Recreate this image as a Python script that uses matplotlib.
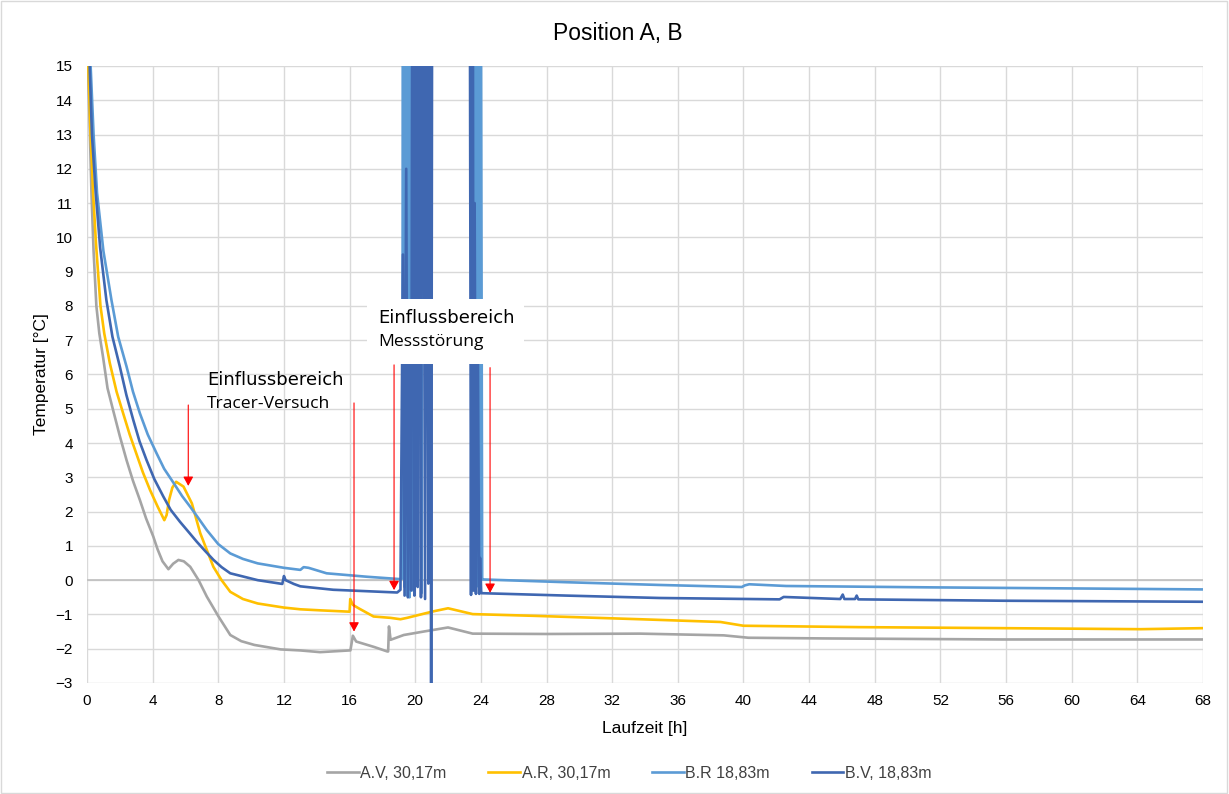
import numpy as np
import matplotlib.pyplot as plt
from matplotlib.patches import Rectangle

nan = np.nan

# A.V, 30,17m (grau)
av_h = [0.02, 0.06, 0.15, 0.27, 0.4, 0.57, 0.75, 0.98, 1.25, 1.59, 2.0, 2.41, 2.8, 3.22, 3.6, 4.04,
        4.3, 4.6, 4.96, 5.25, 5.57, 5.9, 6.29, 6.8, 7.3, 8.0, 8.73, 9.4, 10.2, 11.8, 13.0, 14.2,
        16.0, 16.05, 16.2, 16.4, 17.5, 18.3, 18.35, 18.4, 18.5, 19.3, 20.5, 22.0, 23.5, 28.0, 33.7, 38.8,
        40.3, 45.0, 55.8, 68.0]
av_t = [16.5, 15.0, 13.5, 11.3, 9.6, 8.0, 7.2, 6.5, 5.6, 4.96, 4.2, 3.5, 2.9, 2.34, 1.8, 1.27,
        0.9, 0.55, 0.32, 0.48, 0.59, 0.55, 0.39, 0.0, -0.48, -1.05, -1.6, -1.78, -1.89, -2.02, -2.05, -2.1,
        -2.05, -2.05, -1.62, -1.79, -1.95, -2.08, -2.08, -1.35, -1.74, -1.6, -1.5, -1.38, -1.56, -1.57, -1.56, -1.61,
        -1.68, -1.7, -1.73, -1.73]

# A.R, 30,17m (gelb)
ar_h = [0.02, 0.08, 0.2, 0.37, 0.55, 0.82, 1.05, 1.39, 1.8, 2.2, 2.6, 3.0, 3.4, 3.84, 4.3, 4.71,
        4.85, 5.0, 5.2, 5.43, 5.88, 6.39, 6.9, 7.7, 8.2, 8.73, 9.5, 10.4, 12.0, 13.0, 14.2, 16.0,
        16.04, 16.2, 16.55, 17.46, 18.5, 19.1, 19.5, 21.1, 22.0, 23.5, 27.2, 33.7, 38.6, 40.0, 47.0, 55.8,
        64.2, 68.0]
ar_t = [17.0, 15.0, 13.2, 11.3, 9.8, 8.0, 7.2, 6.33, 5.5, 4.87, 4.25, 3.7, 3.15, 2.63, 2.15, 1.75,
        1.9, 2.34, 2.7, 2.87, 2.73, 2.24, 1.37, 0.39, 0.0, -0.34, -0.55, -0.68, -0.8, -0.85, -0.88, -0.92,
        -0.55, -0.72, -0.82, -1.06, -1.1, -1.14, -1.1, -0.91, -0.82, -0.99, -1.04, -1.14, -1.22, -1.33, -1.37, -1.4,
        -1.43, -1.4]

# B.R 18,83m (hellblau)
br_h = [0.1, 0.22, 0.4, 0.61, 1.0, 1.49, 1.9, 2.41, 2.8, 3.22, 3.7, 4.24, 4.7, 5.27, 5.8, 6.29,
        6.8, 7.3, 8.0, 8.73, 9.5, 10.4, 12.0, 13.0, 13.2, 13.5, 14.6, 17.05, 19.1, 19.22, 19.25, 19.35,
        19.45, 19.5, 19.55, 19.65, 19.75, 19.8, 19.85, 20.35, 20.38, 20.42, 21.5, 23.45, 23.55, 23.62, 23.72, 23.8,
        23.9, 23.97, 24.08, 24.15, 29.2, 34.9, 39.9, 40.1, 40.35, 42.6, 51.4, 68.0]
br_t = [17.0, 15.0, 13.0, 11.3, 9.6, 8.17, 7.1, 6.23, 5.5, 4.87, 4.25, 3.7, 3.25, 2.84, 2.45, 2.14,
        1.8, 1.46, 1.05, 0.78, 0.62, 0.49, 0.36, 0.3, 0.38, 0.36, 0.2, 0.1, 0.03, 0.05, 25.0, -0.2,
        25.0, -0.45, 25.0, -0.5, 25.0, -0.3, 25.0, 25.0, -0.38, 25.0, nan, 25.0, -0.3, 25.0, -0.2, 25.0,
        0.5, 25.0, 0.02, 0.02, -0.06, -0.14, -0.2, -0.15, -0.12, -0.17, -0.21, -0.27]

# B.V, 18,83m (dunkelblau)
bv_h = [0.1, 0.16, 0.3, 0.53, 0.8, 1.18, 1.55, 2.0, 2.4, 2.82, 3.2, 3.63, 4.1, 4.65, 5.1, 5.67,
        6.2, 6.69, 7.2, 7.71, 8.2, 8.73, 10.4, 11.9, 12.0, 12.1, 12.6, 13.0, 15.0, 18.9, 19.1, 19.25,
        19.35, 19.45, 19.55, 19.65, 19.75, 19.85, 19.95, 20.05, 20.15, 20.25, 20.35, 20.45, 20.6, 20.7, 20.8, 20.9,
        20.97, 21.05, 22.0, 23.3, 23.4, 23.5, 23.55, 23.62, 23.7, 23.8, 23.9, 23.95, 24.02, 24.05, 29.2, 34.9,
        42.2, 42.45, 45.9, 46.05, 46.15, 46.8, 46.9, 47.0, 55.8, 68.0]
bv_t = [17.0, 15.0, 13.0, 11.3, 9.7, 8.17, 7.1, 6.23, 5.4, 4.67, 4.05, 3.5, 2.95, 2.44, 2.05, 1.7,
        1.4, 1.12, 0.85, 0.59, 0.38, 0.2, 0.0, -0.11, 0.12, 0.0, -0.11, -0.18, -0.28, -0.36, -0.28, 9.5,
        -0.45, 12.0, -0.5, 8.0, -0.3, 25.0, -0.45, 25.0, -0.2, 25.0, -0.5, 25.0, -0.55, 25.0, -0.1, 25.0,
        -3.6, 25.0, nan, 25.0, -0.43, 25.0, -0.3, 11.0, -0.4, 8.0, -0.4, 0.65, -0.38, -0.38, -0.45, -0.52,
        -0.56, -0.49, -0.55, -0.42, -0.55, -0.55, -0.45, -0.56, -0.6, -0.63]

# Pfeile (Zeit, Start, Spitze)
arrow_h = [6.17, 16.27, 18.71, 24.56]
arrow_top = [5.11, 5.17, 6.28, 6.2]
arrow_tip = [2.75, -1.5, -0.29, -0.37]

x_ticks = list(range(0, 69, 4))
y_ticks = list(range(-3, 16))

fig = plt.figure(figsize=(12.29, 7.94), dpi=100)
ax = fig.add_axes([0.0708, 0.1398, 0.908, 0.7771])

ax.plot(av_h, av_t, color='#A5A5A5', lw=1.9, label='A.V, 30,17m')
ax.plot(ar_h, ar_t, color='#FFC000', lw=1.9, label='A.R, 30,17m')
ax.plot(br_h, br_t, color='#5B9BD5', lw=1.9, label='B.R 18,83m')
ax.plot(bv_h, bv_t, color='#3F67B1', lw=1.9, label='B.V, 18,83m')

ax.set_xlim(0, 68)
ax.set_ylim(-3, 15)
ax.set_xticks(x_ticks)
ax.set_yticks(y_ticks)
ax.grid(True, color='#D9D9D9', lw=1)
ax.set_axisbelow(True)
ax.axhline(0, color='#BFBFBF', lw=1.2, zorder=1)
for s in ax.spines.values():
    s.set_visible(False)
ax.tick_params(axis='y', length=0, labelsize=11, pad=10)
ax.tick_params(axis='x', length=0, labelsize=11, pad=8)
for lab in ax.get_xticklabels() + ax.get_yticklabels():
    lab.set_fontfamily('Liberation Sans')

ax.set_xlabel('Laufzeit [h]', fontsize=12.5, family='Liberation Sans', labelpad=9)
ax.set_ylabel('Temperatur [°C]', fontsize=12.5, family='Liberation Sans', labelpad=5)
fig.text(0.503, 0.958, 'Position A, B', ha='center', va='center', fontsize=16.5, family='Liberation Sans')

# weisses Textfeld ueber den Stoerspitzen
ax.add_patch(Rectangle((17.05, 6.3), 9.6, 1.9, facecolor='white', edgecolor='none', zorder=5))
ax.text(7.31, 5.84, 'Einflussbereich', fontsize=13, va='center', ha='left', zorder=6)
ax.text(7.31, 5.14, 'Tracer-Versuch', fontsize=12.6, family='Open Sans', va='center', ha='left', zorder=6)
ax.text(17.73, 7.65, 'Einflussbereich', fontsize=13, va='center', ha='left', zorder=6)
ax.text(17.73, 6.95, 'Messstörung', fontsize=12.6, family='Open Sans', va='center', ha='left', zorder=6)

for xh, yt, yp in zip(arrow_h, arrow_top, arrow_tip):
    ax.annotate('', xy=(xh, yp), xytext=(xh, yt),
                arrowprops=dict(arrowstyle='-|>,head_length=0.55,head_width=0.3',
                                color='#FF0000', lw=0.8, shrinkA=0, shrinkB=0),
                zorder=7)

leg = fig.legend(loc='center', bbox_to_anchor=(0.512, 0.026), ncol=4, frameon=False,
                 handlelength=2.0, columnspacing=2.6, handletextpad=0.1,
                 prop={'family': 'Liberation Sans', 'size': 11.5})
for t in leg.get_texts():
    t.set_color('#404040')

fig.patches.append(Rectangle((0.0005, 0.0008), 0.998, 0.998, transform=fig.transFigure,
                             fill=False, edgecolor='#D9D9D9', lw=1))

fig.savefig('out.png', dpi=100)
